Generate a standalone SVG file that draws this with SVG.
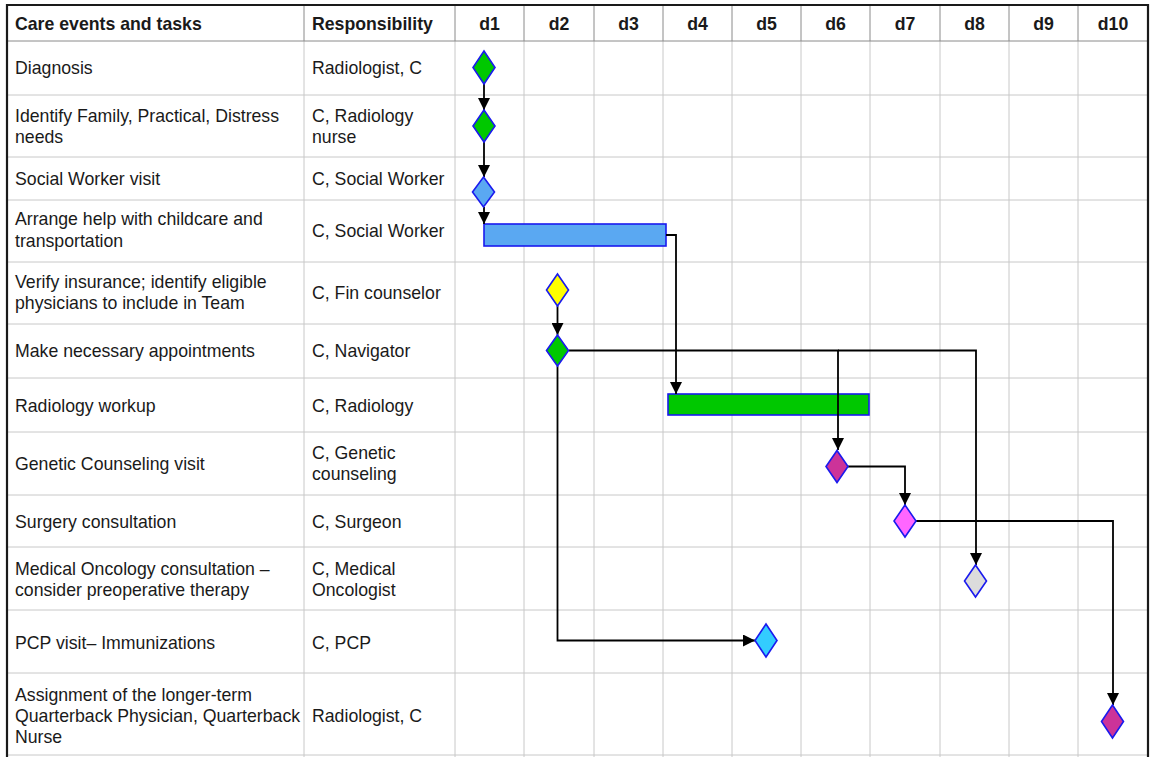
<svg xmlns="http://www.w3.org/2000/svg" width="1150" height="757" viewBox="0 0 1150 757">
<style>
text{font-family:"Liberation Sans",Arial,sans-serif;font-size:17.7px;fill:#1a1a1a}
.hd{font-weight:bold}
.dc{font-weight:bold;text-anchor:middle}
.grid{stroke:#c8c8c8;stroke-width:1;fill:none}
.hgrid{stroke:#8a8a8a;stroke-width:1;fill:none}
.border{stroke:#1a1a1a;stroke-width:2.2;fill:none}
.dia{stroke:#1a1aee;stroke-width:1.6}
.bar{stroke:#1a1aee;stroke-width:1.6}
.conn{stroke:#000;stroke-width:1.8;fill:none}
</style>
<defs>
<marker id="arr" markerUnits="userSpaceOnUse" markerWidth="12" markerHeight="12" viewBox="0 0 12 12" refX="12" refY="6" orient="auto">
<path d="M0,0 L12,6 L0,12 Z" fill="#000"/>
</marker>
</defs>
<rect x="0" y="0" width="1150" height="757" fill="#fff"/>
<g id="grid">
<path class="grid" d="M7,95H1148M7,157H1148M7,200H1148M7,262H1148M7,324H1148M7,378H1148M7,432H1148M7,495H1148M7,547H1148M7,610H1148M7,673H1148M7,755H1148"/>
<path class="grid" d="M304,41V757M455,41V757M524,41V757M594,41V757M663,41V757M732,41V757M801,41V757M870,41V757M940,41V757M1009,41V757M1078,41V757"/>
<path class="hgrid" d="M7,41H1148M304,5V41M455,5V41M524,5V41M594,5V41M663,5V41M732,5V41M801,5V41M870,5V41M940,5V41M1009,5V41M1078,5V41"/>
<path class="border" d="M7,757V5H1148V757"/>
</g>
<g id="header">
<text class="hd" x="15" y="30">Care events and tasks</text>
<text class="hd" x="312" y="30">Responsibility</text>
<text class="dc" x="489.5" y="30">d1</text>
<text class="dc" x="559" y="30">d2</text>
<text class="dc" x="628.5" y="30">d3</text>
<text class="dc" x="697.5" y="30">d4</text>
<text class="dc" x="766.5" y="30">d5</text>
<text class="dc" x="835.5" y="30">d6</text>
<text class="dc" x="905" y="30">d7</text>
<text class="dc" x="974.5" y="30">d8</text>
<text class="dc" x="1043.5" y="30">d9</text>
<text class="dc" x="1113" y="30">d10</text>
</g>
<g id="rows">
<text x="15" y="74">Diagnosis</text>
<text x="312" y="74">Radiologist, C</text>
<text x="15" y="122">Identify Family, Practical, Distress</text>
<text x="15" y="143">needs</text>
<text x="312" y="122">C, Radiology</text>
<text x="312" y="143">nurse</text>
<text x="15" y="185">Social Worker visit</text>
<text x="312" y="185">C, Social Worker</text>
<text x="15" y="225">Arrange help with childcare and</text>
<text x="15" y="247">transportation</text>
<text x="312" y="237">C, Social Worker</text>
<text x="15" y="288">Verify insurance; identify eligible</text>
<text x="15" y="309">physicians to include in Team</text>
<text x="312" y="299">C, Fin counselor</text>
<text x="15" y="357">Make necessary appointments</text>
<text x="312" y="357">C, Navigator</text>
<text x="15" y="412">Radiology workup</text>
<text x="312" y="412">C, Radiology</text>
<text x="15" y="470">Genetic Counseling visit</text>
<text x="312" y="459">C, Genetic</text>
<text x="312" y="480">counseling</text>
<text x="15" y="528">Surgery consultation</text>
<text x="312" y="528">C, Surgeon</text>
<text x="15" y="575">Medical Oncology consultation –</text>
<text x="15" y="596">consider preoperative therapy</text>
<text x="312" y="575">C, Medical</text>
<text x="312" y="596">Oncologist</text>
<text x="15" y="649">PCP visit– Immunizations</text>
<text x="312" y="649">C, PCP</text>
<text x="15" y="701">Assignment of the longer-term</text>
<text x="15" y="722">Quarterback Physician, Quarterback</text>
<text x="15" y="743">Nurse</text>
<text x="312" y="722">Radiologist, C</text>
</g>
<g id="n-arrange"><rect class="bar" x="484" y="224" width="182" height="22" fill="#5aa8f2"/></g>
<g id="n-radiology"><rect class="bar" x="668" y="394" width="201" height="21" fill="#00c800"/></g>
<g id="connectors">
<path class="conn" d="M484,83V110" marker-end="url(#arr)"/>
<path class="conn" d="M484,142V177" marker-end="url(#arr)"/>
<path class="conn" d="M484,207V224" marker-end="url(#arr)"/>
<path class="conn" d="M666,235H676V394" marker-end="url(#arr)"/>
<path class="conn" d="M557.5,306V335" marker-end="url(#arr)"/>
<path class="conn" d="M569,350.5H838V450" marker-end="url(#arr)"/>
<path class="conn" d="M838,350.5H976V565" marker-end="url(#arr)"/>
<path class="conn" d="M557.5,366V640.5H755" marker-end="url(#arr)"/>
<path class="conn" d="M848,466.5H905V505" marker-end="url(#arr)"/>
<path class="conn" d="M916,521H1113V705" marker-end="url(#arr)"/>
</g>
<g id="n-diagnosis"><polygon class="dia" fill="#00c800" points="484,51 495,67.5 484,84 473,67.5"/></g>
<g id="n-identify"><polygon class="dia" fill="#00c800" points="484,110 495,126 484,142 473,126"/></g>
<g id="n-social"><polygon class="dia" fill="#5aa8f2" points="483.5,177 494.5,192 483.5,207 472.5,192"/></g>
<g id="n-verify"><polygon class="dia" fill="#ffff00" points="557.5,274 568.5,290 557.5,306 546.5,290"/></g>
<g id="n-make"><polygon class="dia" fill="#00c800" points="557.5,335 568.5,350.5 557.5,366 546.5,350.5"/></g>
<g id="n-genetic"><polygon class="dia" fill="#cc3399" points="837,450.5 848,466.5 837,482.5 826,466.5"/></g>
<g id="n-surgery"><polygon class="dia" fill="#ff66ff" points="905,505 916,521 905,537 894,521"/></g>
<g id="n-medical"><polygon class="dia" fill="#dcdcdc" points="975.5,565 986.5,581 975.5,597 964.5,581"/></g>
<g id="n-pcp"><polygon class="dia" fill="#33ccff" points="766,624 777,640.5 766,657 755,640.5"/></g>
<g id="n-assign"><polygon class="dia" fill="#cc3399" points="1112.5,705 1123.5,721.5 1112.5,738 1101.5,721.5"/></g>
</svg>
